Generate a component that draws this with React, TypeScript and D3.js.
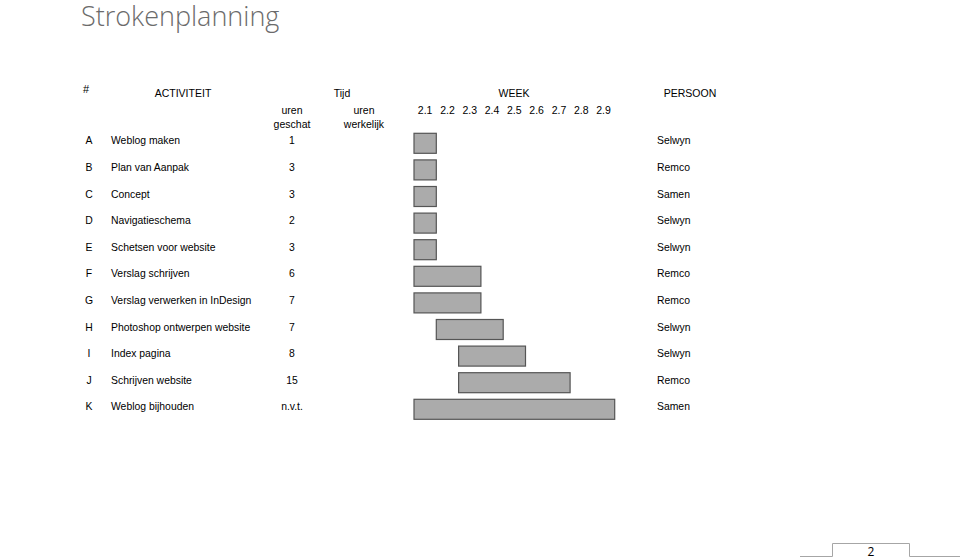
import React, { useEffect, useRef } from "react";
import * as d3 from "d3";

// strokenplanning rows
const ids = ["A", "B", "C", "D", "E", "F", "G", "H", "I", "J", "K"];
const activities = [
  "Weblog maken",
  "Plan van Aanpak",
  "Concept",
  "Navigatieschema",
  "Schetsen voor website",
  "Verslag schrijven",
  "Verslag verwerken in InDesign",
  "Photoshop ontwerpen website",
  "Index pagina",
  "Schrijven website",
  "Weblog bijhouden",
];
const hoursEstimated = ["1", "3", "3", "2", "3", "6", "7", "7", "8", "15", "n.v.t."];
const persons = ["Selwyn", "Remco", "Samen", "Selwyn", "Selwyn", "Remco", "Remco", "Selwyn", "Selwyn", "Remco", "Samen"];
const weeks = ["2.1", "2.2", "2.3", "2.4", "2.5", "2.6", "2.7", "2.8", "2.9"];
// first week index and number of weeks per activity
const startWeek = [0, 0, 0, 0, 0, 0, 0, 1, 2, 2, 0];
const duration = [1, 1, 1, 1, 1, 3, 3, 3, 3, 5, 9];

const W = 960;
const H = 559;

export default function App() {
  const ref = useRef<SVGSVGElement>(null);

  useEffect(() => {
    const svg = d3.select(ref.current);
    svg.selectAll("*").remove();
    const font = "Liberation Sans, Arial, sans-serif";

    // title
    svg.append("text")
      .attr("x", 81).attr("y", 26)
      .attr("font-family", "Open Sans, sans-serif")
      .attr("font-weight", 300)
      .attr("font-size", 27)
      .attr("fill", "#6b6b6b")
      .text("Strokenplanning");

    const x = d3.scaleBand().domain(weeks).range([414, 414 + 22.3 * weeks.length]);
    const y = d3.scaleBand().domain(ids).range([127, 127 + 26.6 * ids.length]);

    // header
    const head = svg.append("g").attr("font-family", font).attr("fill", "#000");
    head.append("text").attr("x", 83).attr("y", 93).attr("font-size", 11).text("#");
    const hdr = [
      ["ACTIVITEIT", 183, 97],
      ["Tijd", 342, 97],
      ["WEEK", 514, 97],
      ["PERSOON", 690, 97],
      ["uren", 292, 114],
      ["geschat", 292, 128],
      ["uren", 364, 114],
      ["werkelijk", 364, 128],
    ];
    hdr.forEach(([t, hx, hy]) => {
      head.append("text")
        .attr("x", hx).attr("y", hy)
        .attr("text-anchor", "middle")
        .attr("font-size", 10.5)
        .text(t as string);
    });
    head.selectAll(".wk").data(weeks).enter().append("text")
      .attr("class", "wk")
      .attr("x", d => (x(d) as number) + x.bandwidth() / 2)
      .attr("y", 114)
      .attr("text-anchor", "middle")
      .attr("font-size", 10.5)
      .text(d => d);

    // rows
    const rows = svg.append("g").attr("font-family", font).attr("font-size", 10.4);
    const cy = (d: string) => (y(d) as number) + y.bandwidth() / 2;
    rows.selectAll(".id").data(ids).enter().append("text")
      .attr("x", 89).attr("y", d => cy(d) + 4)
      .attr("text-anchor", "middle").text(d => d);
    rows.selectAll(".act").data(activities).enter().append("text")
      .attr("x", 111).attr("y", (d, i) => cy(ids[i]) + 4).text(d => d);
    rows.selectAll(".hrs").data(hoursEstimated).enter().append("text")
      .attr("x", 292).attr("y", (d, i) => cy(ids[i]) + 4)
      .attr("text-anchor", "middle").text(d => d);
    rows.selectAll(".per").data(persons).enter().append("text")
      .attr("x", 657).attr("y", (d, i) => cy(ids[i]) + 4).text(d => d);

    // bars
    svg.append("g").selectAll("rect").data(ids).enter().append("rect")
      .attr("x", (d, i) => x(weeks[startWeek[i]]) as number)
      .attr("y", d => cy(d) - 7)
      .attr("width", (d, i) => x.bandwidth() * duration[i])
      .attr("height", 20)
      .attr("fill", "#ababab")
      .attr("stroke", "#555")
      .attr("stroke-width", 1.2);

    // page number tab
    svg.append("path")
      .attr("d", "M800,556.5H832.5V543.5H909.5V556.5H960")
      .attr("fill", "none").attr("stroke", "#a6a6a6").attr("stroke-width", 1);
    svg.append("text")
      .attr("x", 871).attr("y", 556)
      .attr("text-anchor", "middle")
      .attr("font-family", "Open Sans, sans-serif")
      .attr("font-size", 12)
      .text("2");
  }, []);

  return (
    <svg ref={ref} width={W} height={H}
      style={{ position: "absolute", left: 0, top: 0, background: "#fff" }} />
  );
}
